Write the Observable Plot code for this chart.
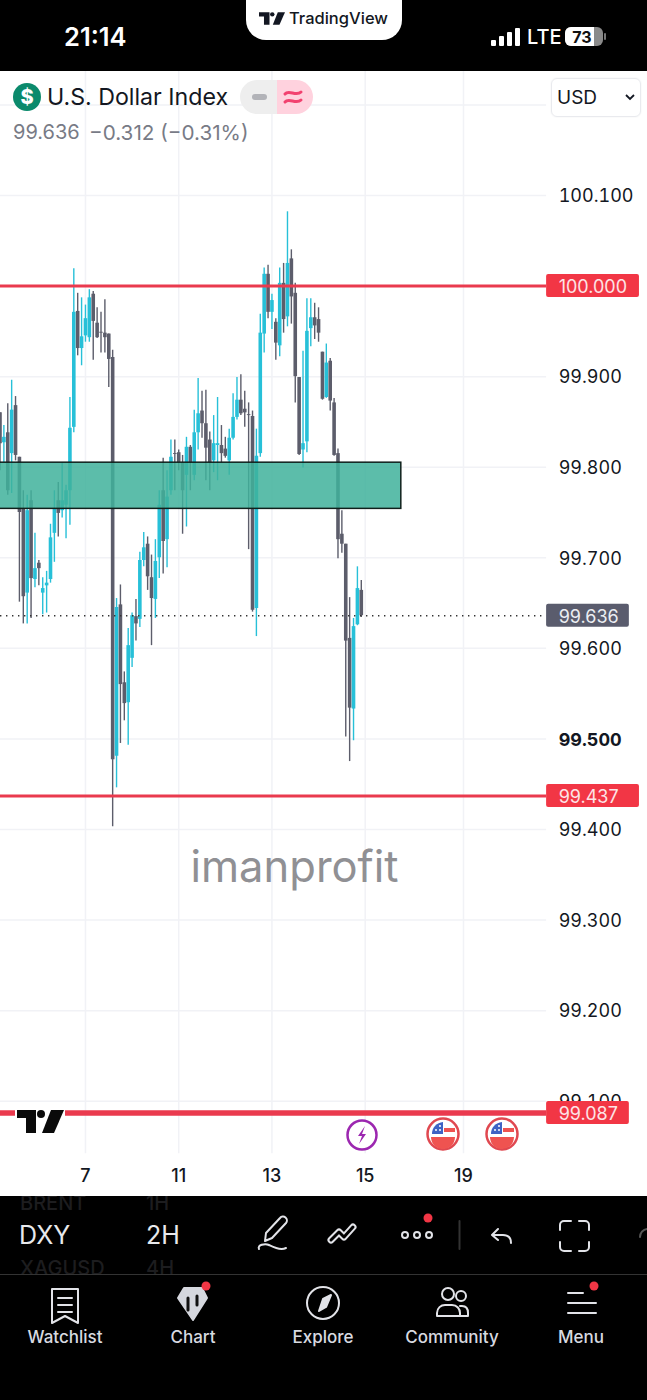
<!DOCTYPE html>
<html><head><meta charset="utf-8">
<script src="https://cdn.jsdelivr.net/npm/d3@7"></script>
<script src="https://cdn.jsdelivr.net/npm/@observablehq/plot@0.6"></script>
<style>
html,body{margin:0;padding:0;background:#000;width:647px;height:1400px;overflow:hidden;font-family:Inter,Roboto,sans-serif}
#top{position:relative;height:71px;background:#000;color:#fff;overflow:hidden}
#chart{position:relative;height:1125px;background:#fff;overflow:hidden}
#chart svg.plot{display:block;position:absolute;left:0;top:0}
#foot{position:relative;height:204px;background:#000;overflow:hidden;color:#d5d7de}
.a{position:absolute;white-space:nowrap}
.nav{position:absolute;top:131px;transform:translateX(-50%);font:500 17px Inter,Roboto,sans-serif;color:#d8dae0}
svg.ic{position:absolute;overflow:visible}
</style></head><body>
<div id="top">
 <div class="a" style="left:64px;top:21px;font:600 25.500px Inter,sans-serif;">21:14</div>
 <div class="a" style="left:246px;top:-2px;width:156px;height:42px;background:#fff;border-radius:0 0 20px 20px"></div>
 <svg class="ic" style="left:259px;top:12px" width="26" height="13" viewBox="0 0 47 23"><path d="M0 0H19V23H9V8H0Z" fill="#131722"/><circle cx="24" cy="4" r="4" fill="#131722"/><path d="M34 0H47L37 23H25Z" fill="#131722"/></svg>
 <div class="a" style="left:289px;top:8px;font:500 16.500px Inter,sans-serif;color:#131722">TradingView</div>
 <svg class="ic" style="left:490px;top:28px" width="32" height="18"><g fill="#fff"><rect x="1" y="12" width="5" height="6" rx="1"/><rect x="9" y="8" width="5" height="10" rx="1"/><rect x="17" y="4" width="5" height="14" rx="1"/><rect x="25" y="0" width="5" height="18" rx="1"/></g></svg>
 <div class="a" style="left:527px;top:25px;font:500 20px Inter,sans-serif">LTE</div>
 <svg class="ic" style="left:565px;top:26px" width="42" height="22"><rect x="0" y="1" width="38" height="19" rx="6" fill="#8a8a8a"/><path d="M6 1H29V20H6a6 6 0 0 1-6-6V7a6 6 0 0 1 6-6z" fill="#fff"/><rect x="39" y="7" width="2" height="7" rx="1" fill="#777"/><text x="17" y="16.500" text-anchor="middle" font-family="Inter" font-weight="700" font-size="16" fill="#111">73</text></svg>
</div>
<div id="chart"></div>
<div id="foot">
 <div class="a" style="left:19px;top:24px;font:400 25px Inter,sans-serif;color:#e8e9ec">DXY</div>
 <div class="a" style="left:146px;top:24px;font:400 25px Inter,sans-serif;color:#e8e9ec">2H</div>
 <div class="a" style="left:20px;top:-5px;font:500 20px Inter,sans-serif;color:#1d1d1f">BRENT</div>
 <div class="a" style="left:146px;top:-5px;font:500 20px Inter,sans-serif;color:#1d1d1f">1H</div>
 <div class="a" style="left:20px;top:60px;width:98px;overflow:hidden;font:500 20px Inter,sans-serif;color:#1d1d1f">XAGUSD</div>
 <div class="a" style="left:146px;top:60px;font:500 20px Inter,sans-serif;color:#1d1d1f">4H</div>
 <svg class="ic" style="left:0;top:0" width="647" height="204" fill="none" stroke="#e2e3e8" stroke-width="2" stroke-linecap="round" stroke-linejoin="round">
  <path d="M265 45l1-8 14-15a3.500 3.500 0 0 1 6 5l-14 15zM259 53c-2-4 6-6 10-4s11 6 17 3"/>
  <g stroke-linejoin="round"><path d="M331 44l8-8 5 5 9-10" stroke-width="7"/><path d="M331 44l8-8 5 5 9-10" stroke="#000" stroke-width="3"/></g>
  <circle cx="405" cy="39" r="3"/><circle cx="417" cy="39" r="3"/><circle cx="429" cy="39" r="3"/>
  <path d="M459.500 25v28" stroke="#333"/>
  <path d="M511 47c0-6-4-8-8-8h-10M498 33l-6 6 6 5"/>
  <path d="M560 34v-5a4 4 0 0 1 4-4h7M589 34v-5a4 4 0 0 0-4-4h-6M560 46v5a4 4 0 0 0 4 4h7M589 46v5a4 4 0 0 1-4 4h-6"/>
  <path d="M640 41a8 8 0 0 1 7-8" stroke="#555"/>
  <path d="M52 93h26v34l-13-7-13 7zM58 102h14M58 109h14M58 116h14" />
  <path d="M178 102l6-10h18l5 10-14 22z" stroke="#d5d7de" fill="#d5d7de"/>
  <path d="M188 102v12M197 100v9" stroke="#111" stroke-width="3"/>
  <circle cx="323" cy="107" r="16"/><path d="M331 99l-5 12-7 4 4-12z" fill="#e2e3e8"/>
  <circle cx="448" cy="98" r="6"/><circle cx="461" cy="100" r="5"/><path d="M437 120v-3c0-5 4-8 8-8h7c5 0 8 4 8 8v3zM460 110h2c4 0 6 3 6 7v3h-8"/>
  <path d="M568 97h15M568 107h28M568 117h28"/>
  <g stroke="none"><circle cx="428" cy="22" r="4.500" fill="#f23645"/><circle cx="206" cy="90" r="4.500" fill="#f23645"/><circle cx="594" cy="90" r="4.500" fill="#f23645"/></g>
 </svg>
 <div style="position:absolute;left:0;top:78px;width:647px;height:1px;background:#333"></div>
 <div class="nav" style="left:65px">Watchlist</div><div class="nav" style="left:193px">Chart</div><div class="nav" style="left:323px">Explore</div><div class="nav" style="left:452px">Community</div><div class="nav" style="left:581px">Menu</div>
</div>
<script>
const highs=[99.860,99.846,99.870,99.896,99.878,99.811,99.774,99.769,99.774,99.727,99.697,99.678,99.685,99.737,99.774,99.783,99.805,99.780,99.877,100.019,99.992,99.987,99.979,99.996,99.994,99.976,99.971,99.985,99.947,99.929,99.655,99.670,99.574,99.622,99.639,99.654,99.706,99.728,99.723,99.703,99.720,99.774,99.810,99.796,99.830,99.830,99.819,99.813,99.833,99.824,99.863,99.898,99.884,99.885,99.839,99.857,99.877,99.846,99.833,99.842,99.881,99.899,99.902,99.884,99.871,99.862,99.842,99.969,100.020,100.023,99.991,99.964,100.020,100.025,100.082,100.040,100.003,99.899,99.928,99.986,99.986,99.981,99.976,99.927,99.936,99.920,99.876,99.820,99.752,99.715,99.656,99.633,99.690,99.675];
const opens=[99.860,99.827,99.838,99.815,99.868,99.811,99.754,99.661,99.763,99.676,99.694,99.661,99.669,99.676,99.727,99.763,99.752,99.758,99.774,99.844,99.972,99.931,99.945,99.943,99.991,99.959,99.949,99.948,99.947,99.921,99.481,99.648,99.562,99.540,99.589,99.635,99.632,99.697,99.715,99.678,99.654,99.700,99.774,99.720,99.774,99.815,99.816,99.805,99.791,99.822,99.791,99.838,99.862,99.848,99.830,99.807,99.824,99.824,99.820,99.807,99.832,99.855,99.874,99.864,99.858,99.856,99.644,99.815,99.947,100.013,99.971,99.960,99.934,100.003,99.966,100.030,99.992,99.899,99.819,99.828,99.953,99.965,99.963,99.927,99.877,99.917,99.871,99.815,99.726,99.715,99.611,99.533,99.626,99.664];
const closes=[99.826,99.833,99.774,99.863,99.813,99.750,99.657,99.752,99.677,99.688,99.688,99.666,99.672,99.722,99.754,99.749,99.763,99.774,99.843,99.971,99.931,99.944,99.964,99.987,99.961,99.943,99.948,99.943,99.919,99.477,99.645,99.560,99.539,99.603,99.636,99.627,99.697,99.711,99.679,99.655,99.696,99.758,99.718,99.767,99.811,99.814,99.805,99.774,99.822,99.805,99.838,99.859,99.848,99.821,99.805,99.826,99.826,99.815,99.812,99.832,99.855,99.874,99.859,99.860,99.857,99.642,99.812,99.948,100.013,99.971,99.984,99.937,100.003,99.963,100.025,99.988,99.900,99.814,99.826,99.950,99.965,99.956,99.948,99.875,99.915,99.873,99.813,99.720,99.715,99.608,99.534,99.624,99.666,99.636];
const lows=[99.796,99.805,99.769,99.771,99.807,99.651,99.627,99.627,99.633,99.667,99.669,99.637,99.639,99.672,99.695,99.723,99.744,99.721,99.736,99.838,99.923,99.912,99.938,99.938,99.918,99.942,99.926,99.926,99.888,99.403,99.446,99.495,99.520,99.493,99.579,99.608,99.623,99.690,99.664,99.603,99.633,99.677,99.682,99.689,99.769,99.774,99.796,99.726,99.734,99.774,99.785,99.819,99.832,99.785,99.774,99.794,99.785,99.804,99.810,99.791,99.830,99.852,99.857,99.844,99.709,99.640,99.613,99.811,99.926,99.964,99.952,99.918,99.922,99.948,99.955,99.958,99.871,99.813,99.799,99.816,99.933,99.941,99.938,99.874,99.876,99.862,99.812,99.699,99.705,99.502,99.475,99.498,99.625,99.634];
const gridPrices=[100.2,100.1,100.0,99.9,99.8,99.7,99.6,99.5,99.4,99.3,99.2,99.1];
const plainLabels=[100.1,99.9,99.8,99.7,99.6,99.4,99.3,99.2,99.1];
const boldLabels=[99.5];
const dayLabels=["7","11","13","15","19"];
const dayBars=[22,46,70,94,119.3];
const levels=[{p:100.0,w:3,end:true},{p:99.437,w:3,end:true},{p:99.087,w:5.5,end:false}];
const lastPrice=99.636;
const zoneTop=99.805, zoneBottom=99.754, zoneEnd=103.3;
const labelStart=140.7, labelEndWide=164.6, labelEndNarrow=162, labelBar=143.8, gridEnd=140.7;
const candles=highs.map((h,i)=>({i,h,l:lows[i],o:opens[i],c:closes[i]}));
const cyan="#27c0d8", gray="#5c5d6b";
const col=d=>d.c>=d.o?cyan:gray;
const fmt=d3.format(".3f");
const chart=Plot.plot({
  width:647,height:1125,margin:0,
  x:{type:"linear",domain:[0.13,166.67],range:[0,647],axis:null},
  y:{type:"linear",domain:[98.9948,100.2369],range:[1125,0],axis:null},
  style:{background:"#fff",fontFamily:"Inter,Roboto,sans-serif"},
  marks:[
    Plot.ruleY(gridPrices,{x1:0.13,x2:gridEnd,stroke:"#f1f2f6",strokeWidth:1.5}),
    Plot.ruleX(dayBars,{y1:100.2369,y2:99.042,stroke:"#f1f2f6",strokeWidth:1.5}),
    Plot.ruleX(candles,{x:"i",y1:"l",y2:"h",stroke:col,strokeWidth:1.4}),
    Plot.ruleX(candles,{x:"i",y1:"o",y2:"c",stroke:col,strokeWidth:3.6}),
    Plot.rect([0],{x1:-1,x2:zoneEnd,y1:zoneBottom,y2:zoneTop,fill:"#3fb29b",fillOpacity:.85,stroke:"#10201c",strokeWidth:1.5}),
    Plot.ruleY(levels,{y:"p",x1:0.13,x2:labelStart,stroke:"#ea3a4e",strokeWidth:"w"}),
    Plot.ruleY([lastPrice],{x1:0.13,x2:labelStart,stroke:"#333",strokeWidth:1.3,strokeDasharray:"1.4 4.6"}),
    Plot.axisY(plainLabels,{x:labelBar,anchor:"left",tickSize:0,tickPadding:0,textAnchor:"start",tickFormat:fmt,fontSize:18,dy:1,fill:"#131722",label:null}),
    Plot.axisY(boldLabels,{x:labelBar,anchor:"left",tickSize:0,tickPadding:0,textAnchor:"start",tickFormat:fmt,fontSize:18,dy:1,fontWeight:700,fill:"#131722",label:null}),
    Plot.rect(levels,{x1:labelStart,x2:d=>d.end?labelEndWide:labelEndNarrow,y1:d=>d.p-.0127,y2:d=>d.p+.0127,fill:"#f23645",rx:2}),
    Plot.rect([lastPrice],{x1:labelStart,x2:labelEndNarrow,y1:d=>d-.0127,y2:d=>d+.0127,fill:"#5a5c6d",rx:2}),
    Plot.text(levels,{x:labelBar,y:"p",text:d=>fmt(d.p),textAnchor:"start",dy:1,fill:"#fde3e6",fontSize:18}),
    Plot.text([lastPrice],{x:labelBar,y:d=>d,text:d=>fmt(d),textAnchor:"start",dy:1,fill:"#eceef2",fontSize:18}),
    Plot.text(dayBars,{x:d=>d,y:99.017,text:(d,i)=>dayLabels[i],fontSize:18,fontWeight:500,fill:"#131722"}),
    Plot.text(["imanprofit"],{x:75.8,y:99.357,text:d=>d,fontSize:43.5,fill:"#909094"})
  ]
});
chart.classList.add("plot");
const host=document.getElementById("chart");
host.appendChild(chart);
const flagIcon=x=>`<svg class="ic" style="left:${x}px;top:1046px" width="34" height="34"><circle cx="17" cy="17" r="15.500" fill="#fff" stroke="#e04850" stroke-width="2.500"/><path d="M5 20h24a12 12 0 0 1-24 0z" fill="#ef5350"/><path d="M18 11h11v4H18z" fill="#ef5350"/><path d="M6 17a12 12 0 0 1 11-12v12z" fill="#3f63c4"/><g fill="#fff"><circle cx="10" cy="13" r="1"/><circle cx="14" cy="13" r="1"/><circle cx="14" cy="9" r="1"/></g></svg>`;
host.insertAdjacentHTML("beforeend",`
<svg class="ic" style="left:13px;top:12px" width="28" height="28"><circle cx="14" cy="14" r="14" fill="#0b8a6c"/><text x="14" y="21" text-anchor="middle" font-family="Inter" font-weight="800" font-size="20" fill="#fff">$</text></svg>
<div class="a" style="left:47px;top:12px;font:400 23.200px Inter,sans-serif;color:#131722">U.S. Dollar Index</div>
<div class="a" style="left:240px;top:9px;width:37px;height:34px;background:#eeeeee;border-radius:17px 0 0 17px"></div>
<div class="a" style="left:277px;top:9px;width:36px;height:34px;background:#ffd2de;border-radius:0 17px 17px 0"></div>
<div class="a" style="left:252px;top:23px;width:15px;height:6px;background:#b2b3b8;border-radius:3px"></div>
<svg class="ic" style="left:283px;top:17px" width="20" height="18" fill="none" stroke="#f2416f" stroke-width="3" stroke-linecap="round"><path d="M2 6c4-5 11 3 16-2M2 14c4-5 11 3 16-2"/></svg>
<div class="a" style="left:13px;top:49px;font:400 20px Inter,sans-serif;color:#787b86">99.636</div>
<div class="a" style="left:89px;top:49px;font:400 20.700px Inter,sans-serif;color:#787b86">−0.312 (−0.31%)</div>
<div class="a" style="left:551px;top:7px;width:88px;height:37px;border:1px solid #e9eaee;border-radius:6px;box-shadow:0 0 2px #eee"></div>
<div class="a" style="left:557px;top:15px;font:400 19px Inter,sans-serif;color:#131722">USD</div>
<svg class="ic" style="left:625px;top:23px" width="10" height="8" fill="none" stroke="#131722" stroke-width="1.8"><path d="M1 1l4 4 4-4"/></svg>
<div class="a" style="left:15px;top:1036px;width:50px;height:9px;background:#fff"></div>
<svg class="ic" style="left:17px;top:1039px" width="47" height="23" viewBox="0 0 47 23"><path d="M0 0H19V23H9V8H0Z" fill="#0a0a0a"/><circle cx="24" cy="4" r="4" fill="#0a0a0a"/><path d="M34 0H47L37 23H25Z" fill="#0a0a0a"/></svg>
<svg class="ic" style="left:345px;top:1047px" width="34" height="34"><circle cx="17" cy="17" r="14.500" fill="#fff" stroke="#9c27b0" stroke-width="2.500"/><path d="M20 8l-7 10h4l-3 8 7-10h-4z" fill="#9c27b0"/></svg>
${flagIcon(426)}${flagIcon(485)}
`);
</script>
</body></html>
